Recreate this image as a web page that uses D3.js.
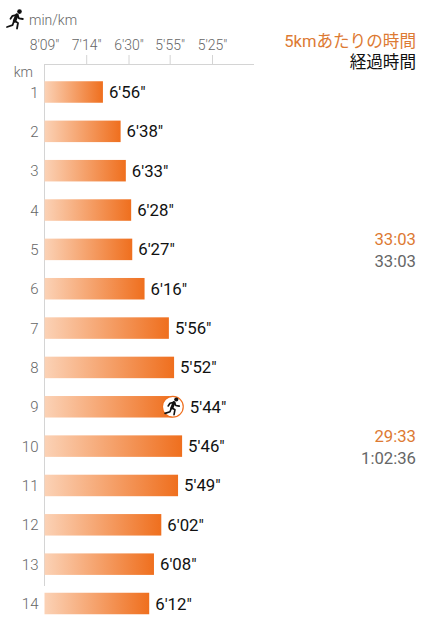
<!DOCTYPE html>
<html><head><meta charset="utf-8">
<script src="https://cdnjs.cloudflare.com/ajax/libs/d3/7.8.5/d3.min.js"></script>
<style>html,body{margin:0;padding:0;background:#fff}svg{display:block}text{font-family:Roboto,"Noto Sans CJK JP",sans-serif}</style>
</head><body><svg id="c" width="428" height="640"></svg>
<script>
const kmLabels = ["1","2","3","4","5","6","7","8","9","10","11","12","13","14"];
const paces = ["6'56\"","6'38\"","6'33\"","6'28\"","6'27\"","6'16\"","5'56\"","5'52\"","5'44\"","5'46\"","5'49\"","6'02\"","6'08\"","6'12\""];
const tickLabels = ["8'09\"","7'14\"","6'30\"","5'55\"","5'25\""];
const currentKm = "9";
const splitKm = ["5","10"];
const splitTimes = ["33:03","29:33"];
const totalTimes = ["33:03","1:02:36"];

const secs = p => { const m = p.match(/(\d+)'(\d+)/); return +m[1]*60 + +m[2]; };
const speed = p => 3600/secs(p);

const svg = d3.select("#c");
const x = d3.scaleLinear().domain([speed(tickLabels[0]), speed(tickLabels[4])]).range([44.5,212.5]);
const y = d3.scalePoint().domain(kmLabels).range([92,603.5]);
const barH = 21.5;

const defs = svg.append("defs");
const g = defs.append("linearGradient").attr("id","bar");
g.append("stop").attr("offset","0%").attr("stop-color","#fbd2b6");
g.append("stop").attr("offset","100%").attr("stop-color","#ef6f1e");

function runnerIcon(tx,ty,s){
  const n = svg.append("g").attr("transform",`translate(${tx},${ty}) scale(${s})`);
  n.append("circle").attr("cx",15.5).attr("cy",3.6).attr("r",2.3).attr("fill","#111");
  n.append("path").attr("d","M13 7L10.500 13").attr("fill","none").attr("stroke","#111").attr("stroke-width",3.400).attr("stroke-linecap","round");
  n.append("path").attr("d","M13 6.800L8.500 7.800L6.500 10.800M13.500 7L15 10.300L18.800 11M10.500 12.800L14 15L13 20.500M10 13L8.500 17.200L3 19")
    .attr("fill","none").attr("stroke","#111").attr("stroke-width",1.800).attr("stroke-linecap","round").attr("stroke-linejoin","round");
}

// axes
svg.append("line").attr("x1",44.5).attr("x2",254).attr("y1",64.5).attr("y2",64.5).attr("stroke","#d4d4d4");
svg.append("line").attr("x1",44.5).attr("x2",44.5).attr("y1",64).attr("y2",586).attr("stroke","#d4d4d4");
svg.selectAll(".tk").data(tickLabels.slice(1)).join("line").attr("class","tk")
  .attr("x1",d=>x(speed(d))).attr("x2",d=>x(speed(d))).attr("y1",55).attr("y2",64).attr("stroke","#d4d4d4");
svg.selectAll(".tl").data(tickLabels).join("text").attr("class","tl")
  .attr("x",d=>x(speed(d))).attr("y",50).attr("text-anchor","middle").attr("font-size",14).attr("fill","#666").attr("font-weight",300).text(d=>d);

// header
runnerIcon(4,8,1);
svg.append("text").attr("x",29).attr("y",25).attr("font-size",14).attr("fill","#666").attr("font-weight",300).text("min/km");
svg.append("text").attr("x",33).attr("y",77).attr("text-anchor","end").attr("font-size",14).attr("fill","#666").attr("font-weight",300).text("km");

// rows
svg.selectAll(".kl").data(kmLabels).join("text").attr("class","kl")
  .attr("x",38.5).attr("y",d=>y(d)+5.5).attr("text-anchor","end").attr("font-size",15).attr("fill","#666").attr("font-weight",300).text(d=>d);
svg.selectAll(".bar").data(kmLabels).join("rect").attr("class","bar")
  .attr("x",x.range()[0]).attr("y",d=>y(d)-barH/2).attr("height",barH)
  .attr("width",(d,i)=>x(speed(paces[i]))-x.range()[0]-(d===currentKm?12:0)).attr("fill","url(#bar)");
svg.selectAll(".val").data(kmLabels).join("text").attr("class","val")
  .attr("x",(d,i)=>x(speed(paces[i]))+6-(d===currentKm?1:0)).attr("y",d=>y(d)+6)
  .attr("font-size",16.8).attr("fill","#111").text((d,i)=>paces[i]);

// current marker
const ci = kmLabels.indexOf(currentKm);
const cx = x(speed(paces[ci]))-12, cy = y(currentKm);
svg.append("circle").attr("cx",cx).attr("cy",cy).attr("r",10.4).attr("fill","#fff").attr("stroke","#ef6f1e").attr("stroke-width",1.2);
runnerIcon(cx-10.500,cy-10.500,.9);

// right column
svg.append("text").attr("x",416).attr("y",47).attr("text-anchor","end").attr("font-size",16.6).attr("fill","#dd7a33").text("5kmあたりの時間");
svg.append("text").attr("x",416).attr("y",68).attr("text-anchor","end").attr("font-size",16.6).attr("fill","#111").text("経過時間");
splitKm.forEach((k,i)=>{
  svg.append("text").attr("x",416).attr("y",y(k)-4).attr("text-anchor","end").attr("font-size",16.7).attr("fill","#dd7a33").text(splitTimes[i]);
  svg.append("text").attr("x",416).attr("y",y(k)+18).attr("text-anchor","end").attr("font-size",16.7).attr("fill","#666").text(totalTimes[i]);
});
</script></body></html>
